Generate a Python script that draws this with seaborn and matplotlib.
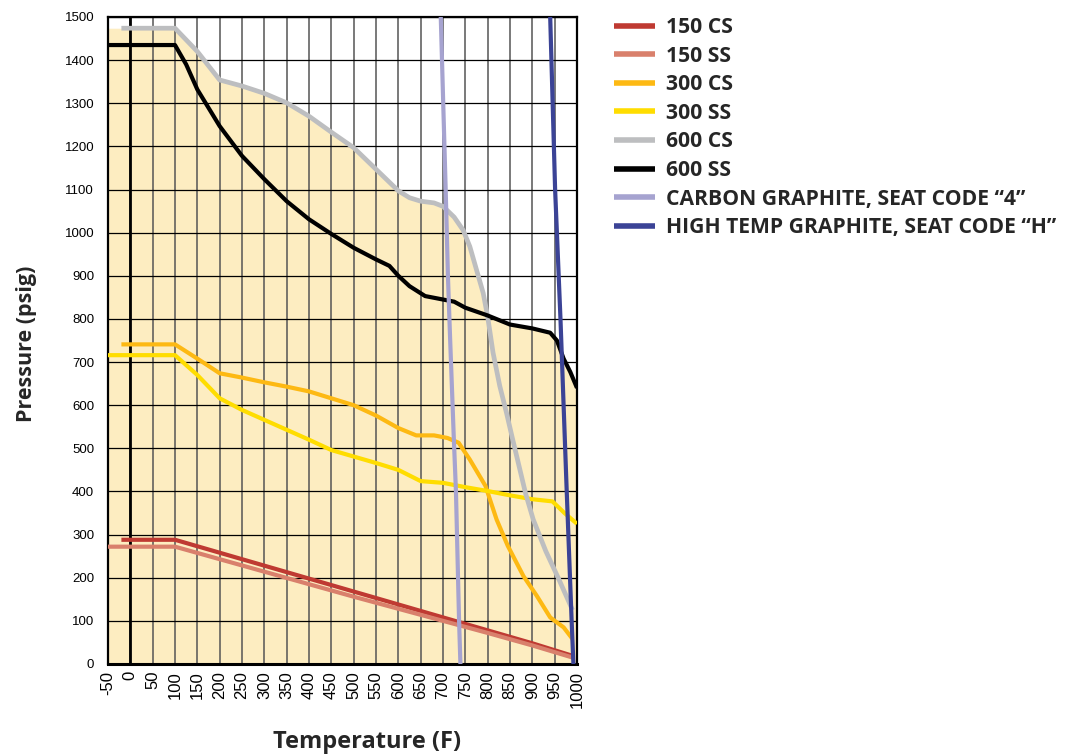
import numpy as np
import pandas as pd
import matplotlib
matplotlib.use("Agg")
import matplotlib.pyplot as plt
import seaborn as sns

# ---------------- data ----------------
t_150cs = [-20, 100, 200, 300, 400, 500, 600, 700, 800, 900, 990]
p_150cs = [288, 288, 258, 228, 198, 168, 138, 108, 78, 48, 19]

t_150ss = [-50, 100, 200, 300, 400, 500, 600, 700, 800, 900, 990]
p_150ss = [272, 272, 243, 214, 185, 156, 128, 100, 72, 43, 15]

t_300cs = [-20, 100, 150, 200, 250, 300, 350, 400, 450, 500, 550, 600, 640, 680,
           710, 735, 760, 795, 820, 845, 880, 910, 940, 970, 990]
p_300cs = [741, 741, 708, 674, 664, 653, 643, 632, 616, 600, 576, 547, 530, 530,
           524, 513, 474, 413, 335, 274, 204, 158, 108, 85, 58]

t_300ss = [-50, 100, 150, 200, 250, 300, 350, 400, 450, 500, 550, 600, 650, 700,
           750, 800, 850, 900, 945, 972, 1000]
p_300ss = [716, 716, 670, 616, 589, 566, 543, 520, 496, 481, 466, 450, 424, 420,
           410, 401, 391, 382, 377, 350, 325]

t_600cs = [-20, 100, 150, 200, 250, 300, 350, 400, 450, 500, 550, 600, 625, 650,
           680, 700, 725, 745, 760, 775, 790, 800, 812, 827, 842, 855, 870, 885,
           902, 930, 960, 990]
p_600cs = [1474, 1474, 1420, 1354, 1340, 1323, 1301, 1270, 1233, 1197, 1147, 1097,
           1081, 1073, 1069, 1061, 1036, 1006, 968, 914, 860, 805, 722, 645, 583,
           525, 460, 395, 335, 262, 195, 125]

t_600ss = [-50, 100, 125, 150, 200, 250, 300, 350, 400, 450, 500, 550, 580, 600,
           625, 660, 700, 725, 750, 800, 850, 900, 940, 955, 970, 985, 1000]
p_600ss = [1435, 1435, 1390, 1332, 1247, 1178, 1124, 1073, 1031, 997, 965, 938,
           923, 900, 876, 853, 845, 840, 826, 808, 787, 778, 768, 750, 708, 677, 640]

t_carbon = [695, 706, 711, 716, 724, 729, 736, 739]
p_carbon = [1500, 1100, 900, 752, 529, 400, 100, 0]

t_hightemp = [940, 951, 963, 977, 988, 992]
p_hightemp = [1500, 1100, 800, 400, 100, 0]

series_names = ["150 CS", "150 SS", "300 CS", "300 SS", "600 CS", "600 SS",
                "CARBON GRAPHITE, SEAT CODE \u201c4\u201d",
                "HIGH TEMP GRAPHITE, SEAT CODE \u201cH\u201d"]
series_t = [t_150cs, t_150ss, t_300cs, t_300ss, t_600cs, t_600ss, t_carbon, t_hightemp]
series_p = [p_150cs, p_150ss, p_300cs, p_300ss, p_600cs, p_600ss, p_carbon, p_hightemp]
series_colors = ["#BF3A32", "#D9806C", "#FDB913", "#FFDD00", "#BDBEC0", "#000000",
                 "#A6A3D0", "#3B4396"]
series_widths = [3.0, 3.0, 3.0, 3.0, 3.4, 3.0, 3.0, 3.0]

x_ticks = list(range(-50, 1001, 50))
y_ticks = list(range(0, 1501, 100))

# ---------------- figure ----------------
sns.set_theme(style="white")
plt.rcParams["font.family"] = ["Liberation Sans", "DejaVu Sans"]

fig = plt.figure(figsize=(10.71, 7.54), dpi=100)
ax = fig.add_axes([108 / 1071, 1 - 664 / 754, 469 / 1071, 647 / 754])

# shaded envelope under the highest 600 class curve
tt = np.linspace(-50, 1000, 1051)
env = np.maximum(np.interp(tt, t_600cs, p_600cs), np.interp(tt, t_600ss, p_600ss))
ax.fill_between(tt, 0, env, color="#FDEDC1", lw=0, zorder=0.3)

handles = []
for name, t, p, c, w in zip(series_names, series_t, series_p, series_colors, series_widths):
    df = pd.DataFrame({"Temperature": t, "Pressure": p})
    sns.lineplot(data=df, x="Temperature", y="Pressure", sort=False, estimator=None,
                 color=c, lw=w, ax=ax, zorder=3, solid_capstyle="butt")
    handles.append(ax.lines[-1])

ax.set_xlim(-50, 1000)
ax.set_ylim(0, 1500)
ax.set_xticks(x_ticks)
ax.set_yticks(y_ticks)
ax.set_xticklabels([str(v) for v in x_ticks], rotation=90, fontsize=12)
ax.set_yticklabels([str(v) for v in y_ticks], fontsize=9.5)
ax.tick_params(axis="both", length=0, colors="black")
ax.tick_params(axis="x", pad=5)
ax.tick_params(axis="y", pad=10)

ax.set_axisbelow(True)
ax.xaxis.grid(True, color="#555555", lw=1.1, zorder=0.5)
ax.yaxis.grid(True, color="#000000", lw=0.9, zorder=0.5)
ax.axvline(0, color="black", lw=2, zorder=0.6)

for side, sp in ax.spines.items():
    sp.set_visible(True)
    sp.set_color("black")
    sp.set_linewidth(1.6)
ax.spines["bottom"].set_linewidth(2.2)

ax.set_xlabel("Temperature (F)", fontsize=17, fontweight="bold", family="Open Sans")
ax.set_ylabel("Pressure (psig)", fontsize=15.5, fontweight="bold", family="Open Sans")
ax.xaxis.label.set_va("center")
ax.yaxis.label.set_va("center")
ax.xaxis.set_label_coords((367 - 108) / 469, (664 - 742) / 647)
ax.yaxis.set_label_coords((27 - 108) / 469, (664 - 344) / 647)

leg = fig.legend(handles, series_names, loc="upper left",
                 bbox_to_anchor=(614 / 1071, 1 - 17 / 754), frameon=False,
                 borderpad=0, borderaxespad=0, handlelength=1.95, handletextpad=0.5,
                 labelspacing=0.36,
                 prop={"family": "Open Sans", "weight": "bold", "size": 15.2})
for line in leg.get_lines():
    line.set_linewidth(4)

fig.savefig("out.png", dpi=100)
